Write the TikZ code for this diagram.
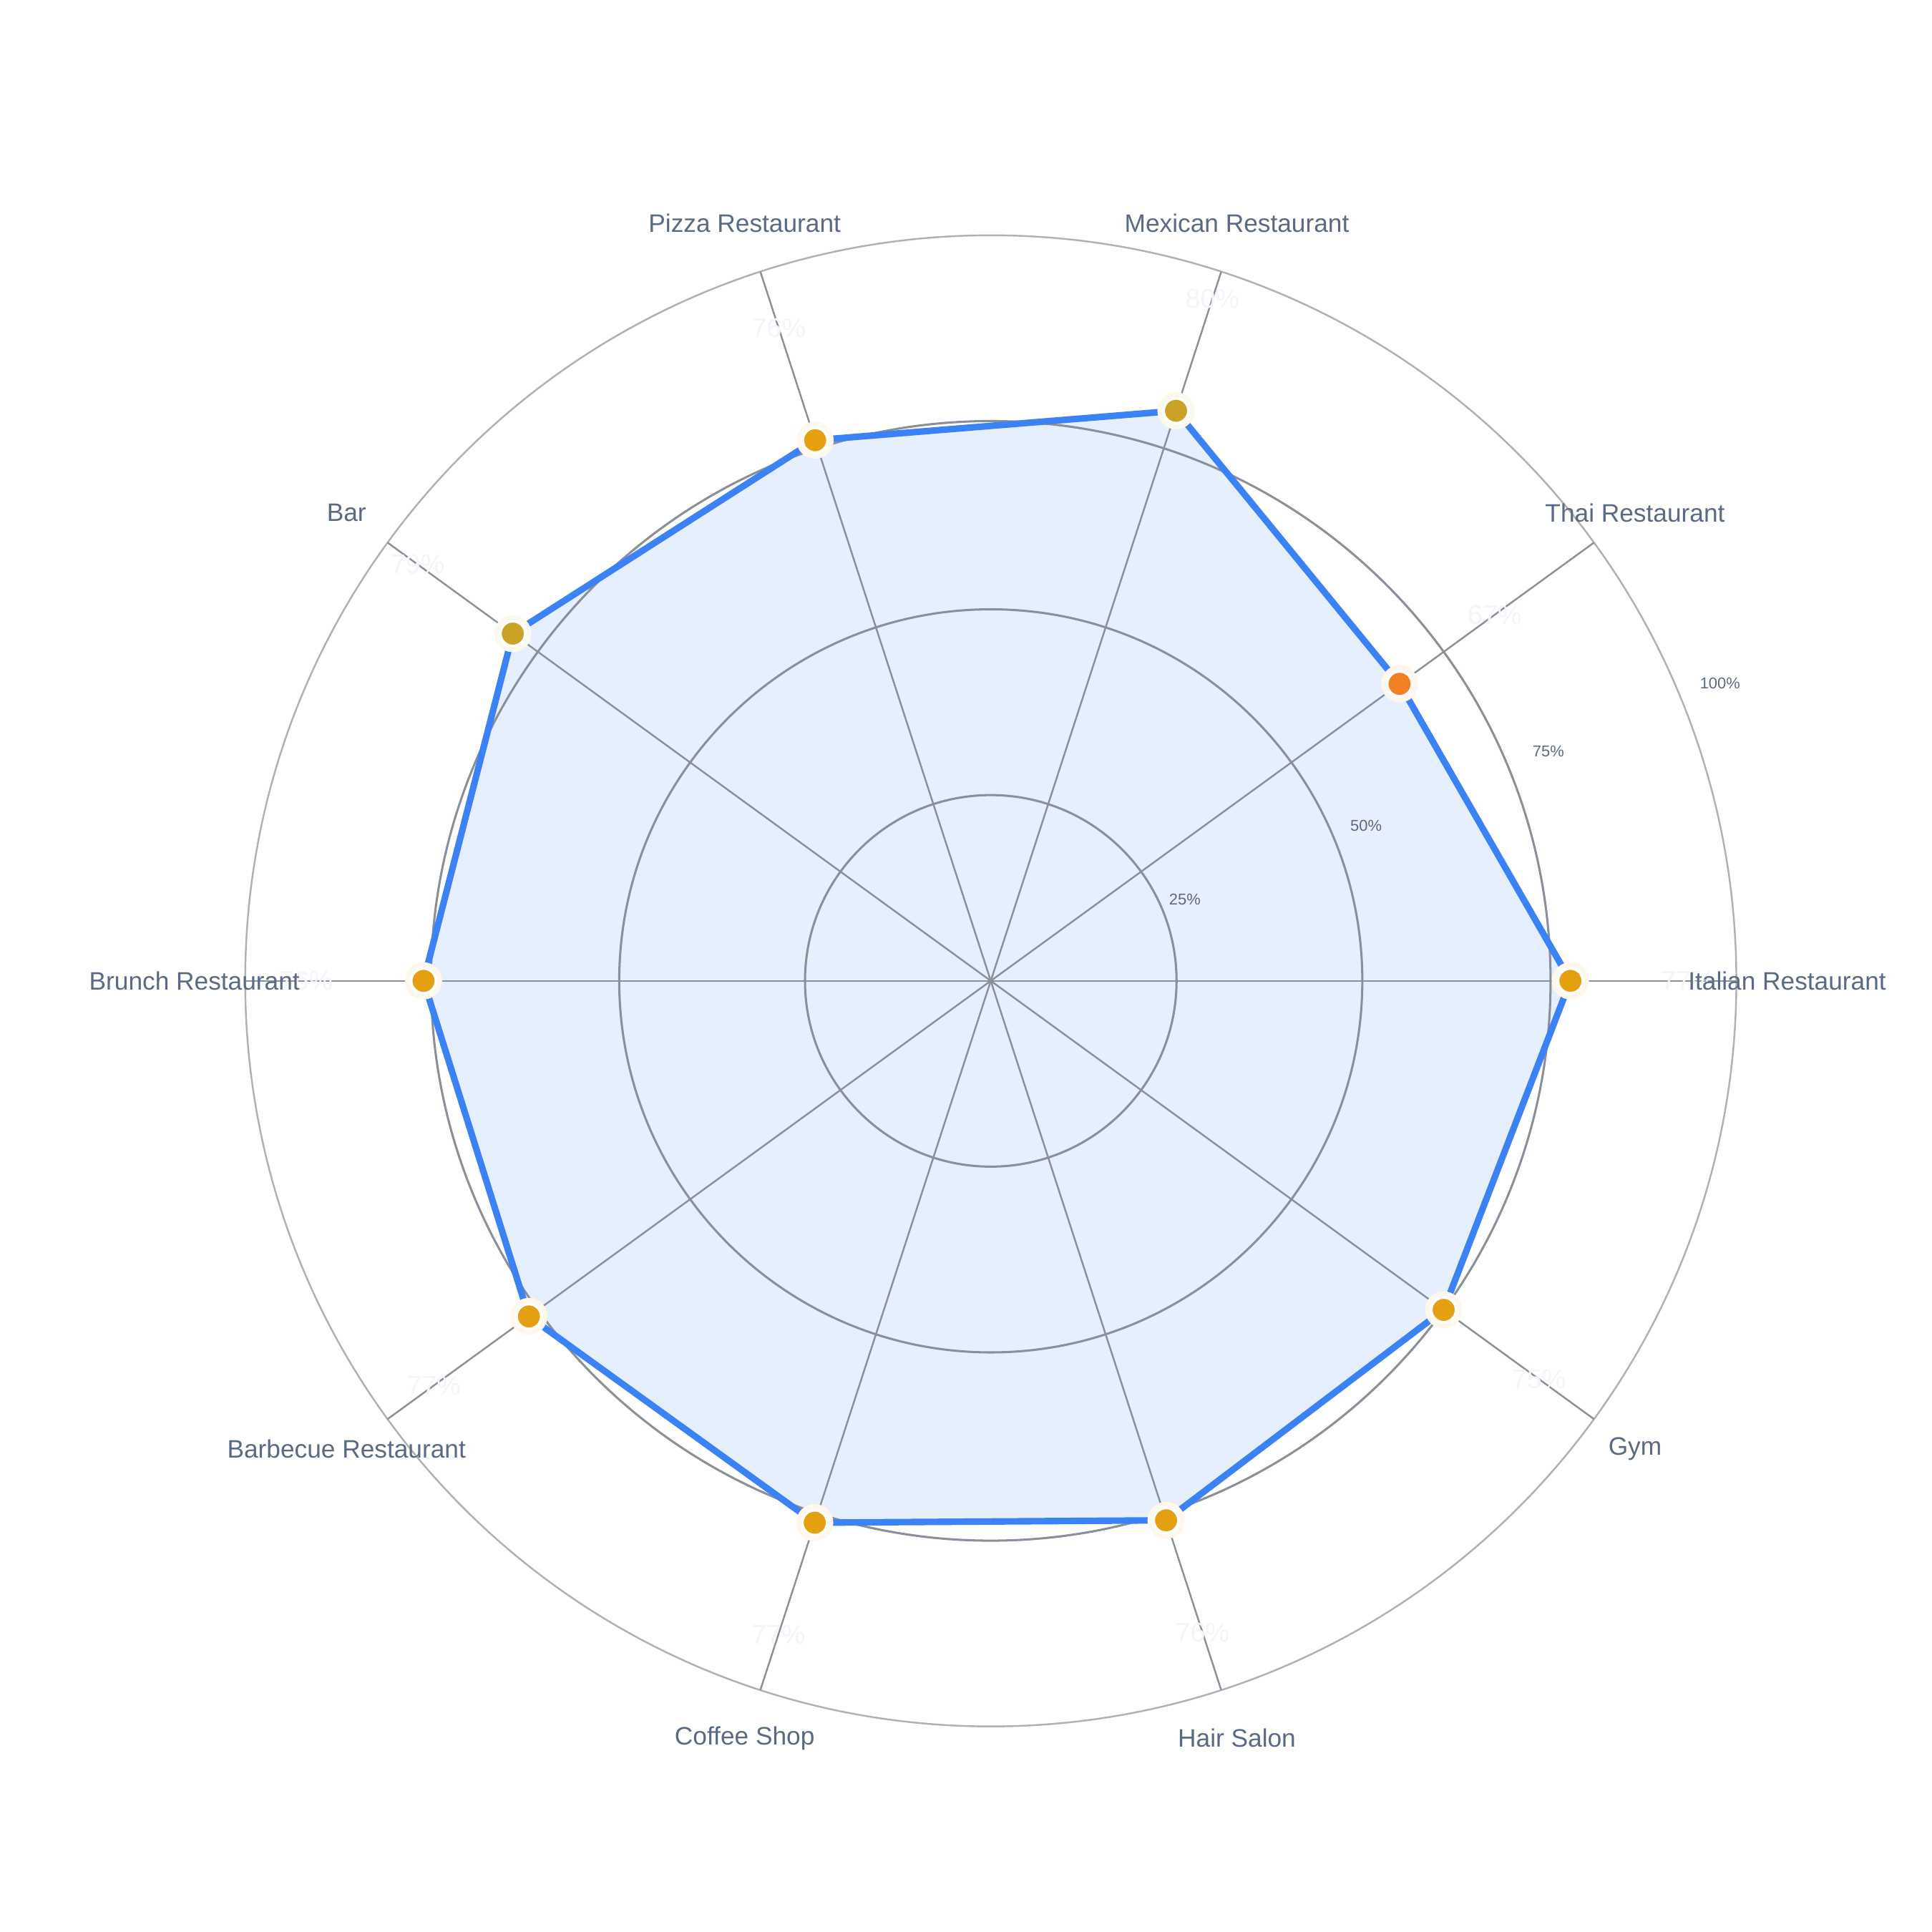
\documentclass[tikz,border=0pt]{standalone}
\usepackage{fontspec}
\setmainfont{Liberation Sans}
\definecolor{gridgray}{RGB}{138,144,153}
\definecolor{labelslate}{RGB}{90,106,133}
\definecolor{areafill}{RGB}{230,239,253}
\definecolor{lineblue}{RGB}{59,130,246}
\definecolor{dotorange}{RGB}{229,160,18}
\definecolor{dotolive}{RGB}{201,162,39}
\definecolor{dotthai}{RGB}{240,128,32}
\definecolor{valtext}{RGB}{243,245,249}
\tikzset{
  ring/.style={draw=gridgray,line width=0.5pt},
  spoke/.style={draw=gridgray,line width=0.4pt},
  catlabel/.style={text=labelslate,font=\fontsize{5.8}{7}\selectfont},
  ticklabel/.style={text=labelslate,font=\fontsize{3.6}{4.5}\selectfont},
  vallabel/.style={text=valtext,font=\fontsize{6.2}{7}\selectfont},
  dotmark/.style={circle,draw=white,line width=0.6pt,inner sep=0pt,minimum size=0.2cm}
}
\begin{document}
\begin{tikzpicture}
    \useasboundingbox[fill=white] (-8,-7.68) rectangle (7.6,7.92);

    % area and outline
    \fill[areafill] (0:4.68) -- (36:4.08) -- (72:4.84) -- (108:4.59) -- (144:4.77)
        -- (180:4.58) -- (216:4.61) -- (252:4.60) -- (288:4.58) -- (324:4.52) -- cycle;

    % grid
    \foreach \r in {1.5,3.0,4.52} \draw[ring] (0,0) circle (\r);
    \draw[ring,draw=gridgray!70,line width=0.4pt] (0,0) circle (6.02);
    \foreach \a in {0,36,...,324} \draw[spoke] (0,0) -- (\a:6.02);

    \draw[lineblue,line width=1.5pt,line join=round] (0:4.68) -- (36:4.08) -- (72:4.84) -- (108:4.59) -- (144:4.77)
        -- (180:4.58) -- (216:4.61) -- (252:4.60) -- (288:4.58) -- (324:4.52) -- cycle;

    % markers
    \foreach \a/\r/\c/\v/\n in {0/4.68/dotorange/77/italian, 36/4.08/dotthai/67/thai,
        72/4.84/dotolive/80/mexican, 108/4.59/dotorange/76/pizza, 144/4.77/dotolive/79/bar,
        180/4.58/dotorange/76/brunch, 216/4.61/dotorange/77/barbecue, 252/4.60/dotorange/77/coffee,
        288/4.58/dotorange/76/hair, 324/4.52/dotorange/75/gym} {
        \fill[\c!8] (\a:\r) circle (0.15);
        \node[dotmark,fill=\c] (dot-\n) at (\a:\r) {};
        \node[vallabel] (val-\n) at (\a:\r+0.95) {\v\%};
    }

    % categories
    \foreach \a/\t/\n in {0/Italian Restaurant/italian, 36/Thai Restaurant/thai,
        72/Mexican Restaurant/mexican, 108/Pizza Restaurant/pizza, 144/Bar/bar,
        180/Brunch Restaurant/brunch, 216/Barbecue Restaurant/barbecue,
        252/Coffee Shop/coffee, 288/Hair Salon/hair, 324/Gym/gym}
        \node[catlabel] (cat-\n) at (\a:6.43) {\t};

    % radial ticks
    \node[ticklabel] (tick-25) at (22.8:1.70) {25\%};
    \node[ticklabel] (tick-50) at (22.5:3.28) {50\%};
    \node[ticklabel] (tick-75) at (22.4:4.87) {75\%};
    \node[ticklabel] (tick-100) at (22.2:6.36) {100\%};
\end{tikzpicture}
\end{document}
